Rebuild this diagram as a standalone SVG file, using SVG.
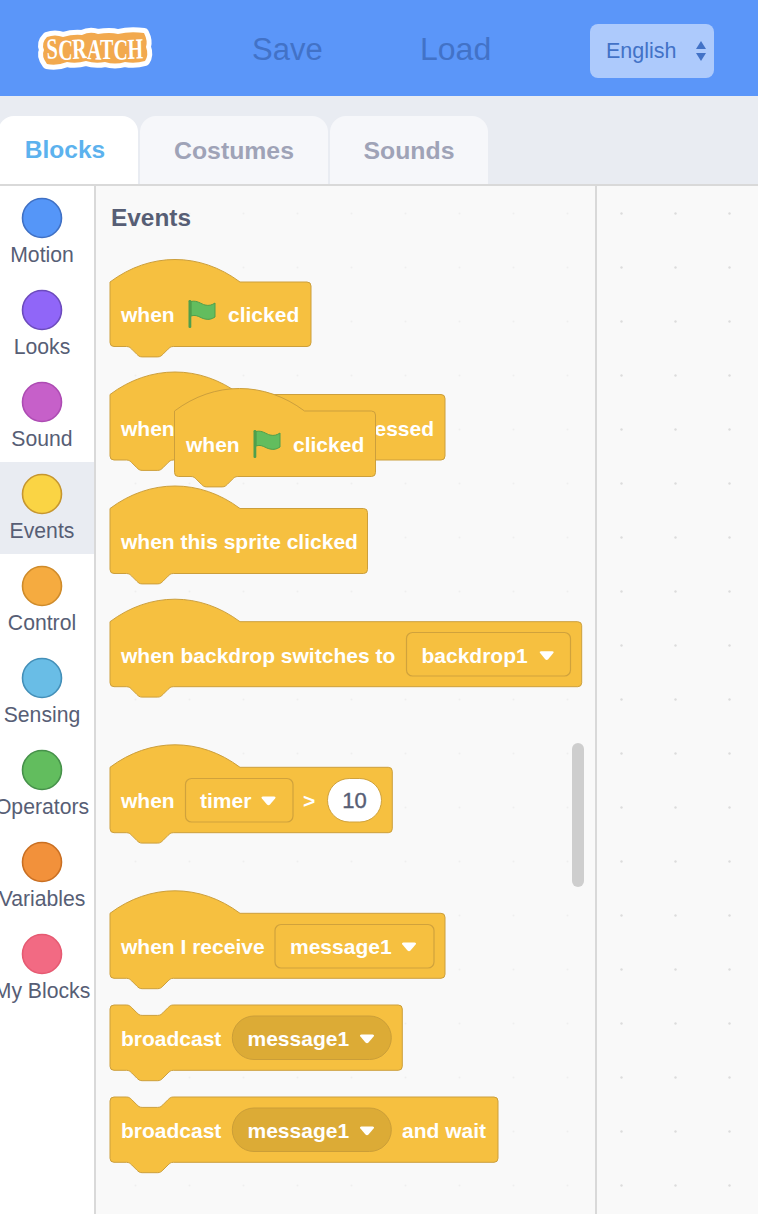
<svg xmlns="http://www.w3.org/2000/svg" width="758" height="1214" viewBox="0 0 758 1214">
<style>
text{font-family:"Liberation Sans",Arial,sans-serif}
.block{fill:#f6c040;stroke:#cc9f3c;stroke-width:1}
.bt{font-size:21px;font-weight:700;fill:#fff}
.dd{fill:#f6c040;stroke:#d0a23c;stroke-width:1.2}
.pill{fill:#dcab36;stroke:#cb9e38;stroke-width:1}
.cat{font-size:21.2px;fill:#575e75;text-anchor:middle}
.dot{stroke-width:1.6}
.tab{fill:#f6f7fa}
.tabt{font-size:24.8px;font-weight:700;text-anchor:middle;fill:#9fa3b7}
</style>
<defs>
<pattern id="dotsA" width="54" height="54" patternUnits="userSpaceOnUse" x="0" y="0"><circle cx="27.5" cy="51.5" r="1" fill="#efefef"/></pattern>
<pattern id="dotsB" width="54" height="54" patternUnits="userSpaceOnUse" x="0" y="0"><circle cx="27.5" cy="51.5" r="1.2" fill="#dcdcdc"/></pattern>
<path id="arrow" d="M-5.6,-4.4 H5.6 Q7.8,-4.4 6.6,-2.6 L1.5,3.6 Q0,5 -1.5,3.6 L-6.6,-2.6 Q-7.8,-4.4 -5.6,-4.4 Z" fill="#fff"/>
<g id="flag"><path d="M191,301.500 c6,-1.500 10,2.500 14,3.500 c4,1 7,0 10,-2 v14 c-3,2 -6,3 -10,2 c-5,-1 -8,-5 -14,-3 Z" fill="#62bd5e" stroke="#4f9f4c" stroke-width="1"/><rect x="188.500" y="300" width="2.800" height="28" rx="1.200" fill="#4f9f4c"/></g>
</defs>
<rect width="758" height="1214" fill="#fff"/>
<g id="header">
<rect width="758" height="96" fill="#5b96f9"/>
<g id="logo">
<path d="M47,37 q8,-3 16,0 q10,-3 19,-2 q8,-4 16,-1 q12,-2 20,0 q12,-3 26,-1 q4,8 2,14 q3,8 -1,14 q-10,3 -20,1 q-10,3 -20,0 q-10,2 -19,-1 q-10,3 -19,1 q-10,4 -20,2 q-6,-8 -3,-14 q-3,-7 3,-13 Z" fill="#f2a94e" stroke="#fff" stroke-width="10" stroke-linejoin="round" paint-order="stroke"/>
<text transform="translate(47,59) scale(1,1.450)" x="0" y="0" font-size="20" font-weight="700" fill="#fff" style="font-family:'Liberation Serif',serif" rotate="-4 3 -3 2 0 2 -2">SCRATCH</text>
</g>
<text x="252" y="60" font-size="31" fill="#4272c7">Save</text>
<text x="420" y="60" font-size="32" fill="#4272c7">Load</text>
<g id="language">
<rect x="590" y="24" width="124" height="54" rx="8" fill="#adcafc"/>
<text x="606" y="58" font-size="21.500" fill="#4272c7">English</text>
<path d="M701,41 l5,8 h-10 Z M696,53 h10 l-5,8 Z" fill="#4272c7"/>
</g>
</g>
<rect y="96" width="758" height="88" fill="#e9ecf2"/>
<g id="tabs">
<path d="M-2,184 V132 a16,16 0 0 1 16,-16 H122 a16,16 0 0 1 16,16 V184 Z" fill="#fff"/>
<text x="65" y="158" font-size="24.500" font-weight="700" text-anchor="middle" fill="#5cb2ee">Blocks</text>
<path class="tab" d="M140,184 V132 a16,16 0 0 1 16,-16 H312 a16,16 0 0 1 16,16 V184 Z"/>
<text class="tabt" x="234" y="159">Costumes</text>
<path class="tab" d="M330,184 V132 a16,16 0 0 1 16,-16 H472 a16,16 0 0 1 16,16 V184 Z"/>
<text class="tabt" x="409" y="159">Sounds</text>
</g>
<rect x="96" y="186" width="499" height="1028" fill="#f9f9f9"/>
<rect x="96" y="186" width="499" height="1028" fill="url(#dotsA)"/>
<rect x="597" y="186" width="161" height="1028" fill="#f9f9f9"/>
<rect x="597" y="186" width="161" height="1028" fill="url(#dotsB)"/>
<rect y="184" width="758" height="2" fill="#d9d9d9"/>
<rect x="94" y="186" width="2" height="1028" fill="#d9d9d9"/>
<rect x="595" y="186" width="2" height="1028" fill="#d9d9d9"/>
<rect y="462" width="94" height="92" fill="#e9ecf2"/>
<g id="categories">
<g id="cat-motion"><circle class="dot" cx="42" cy="218" r="19.500" fill="#5596f8" stroke="#3f70c4"/><text class="cat" x="42" y="262">Motion</text></g>
<g id="cat-looks"><circle class="dot" cx="42" cy="310" r="19.500" fill="#9066f8" stroke="#6c4bbd"/><text class="cat" x="42" y="354">Looks</text></g>
<g id="cat-sound"><circle class="dot" cx="42" cy="402" r="19.500" fill="#c660c9" stroke="#ad4bb3"/><text class="cat" x="42" y="446">Sound</text></g>
<g id="cat-events"><circle class="dot" cx="42" cy="494" r="19.500" fill="#fad444" stroke="#c6962f"/><text class="cat" x="42" y="538">Events</text></g>
<g id="cat-control"><circle class="dot" cx="42" cy="586" r="19.500" fill="#f5ab40" stroke="#cf8b2a"/><text class="cat" x="42" y="630">Control</text></g>
<g id="cat-sensing"><circle class="dot" cx="42" cy="678" r="19.500" fill="#69bde6" stroke="#438fb8"/><text class="cat" x="42" y="722">Sensing</text></g>
<g id="cat-operators"><circle class="dot" cx="42" cy="770" r="19.500" fill="#62bd5e" stroke="#46914a"/><text class="cat" x="42" y="814">Operators</text></g>
<g id="cat-variables"><circle class="dot" cx="42" cy="862" r="19.500" fill="#f2913b" stroke="#c96f22"/><text class="cat" x="42" y="906">Variables</text></g>
<g id="cat-myblocks"><circle class="dot" cx="42" cy="954" r="19.500" fill="#f26a83" stroke="#e65a72"/><text class="cat" x="42" y="998">My Blocks</text></g>
</g>
<text x="111" y="226" font-size="24.400" font-weight="700" fill="#575e75">Events</text>
<rect id="scrollbar" x="572" y="743" width="12" height="144" rx="6" fill="#cecece"/>
<g id="connectors"></g>
<g id="b-key">
<path class="block" d="M110,394.500 C150,364.500 200,364.500 240,394.500 H441 a4,4 0 0 1 4,4 V456 a4,4 0 0 1 -4,4 H173.300 c-2.600,0 -3.900,1.300 -5.200,2.600 l-5.200,5.200 c-1.300,1.300 -2.600,2.600 -5.200,2.600 h-15.600 c-2.600,0 -3.900,-1.300 -5.200,-2.600 l-5.200,-5.200 c-1.300,-1.300 -2.600,-2.600 -5.200,-2.600 H114 a4,4 0 0 1 -4,-4 Z"/>
<text class="bt" x="121" y="435.500">when</text>
<text class="bt" x="434" y="435.500" text-anchor="end">essed</text>
</g>
<g id="b-flag">
<path class="block" d="M110,282 C150,252 200,252 240,282 H307 a4,4 0 0 1 4,4 V342.500 a4,4 0 0 1 -4,4 H173.300 c-2.600,0 -3.900,1.300 -5.200,2.600 l-5.200,5.200 c-1.300,1.300 -2.600,2.600 -5.200,2.600 h-15.600 c-2.600,0 -3.900,-1.300 -5.200,-2.600 l-5.200,-5.200 c-1.300,-1.300 -2.600,-2.600 -5.200,-2.600 H114 a4,4 0 0 1 -4,-4 Z"/>
<text class="bt" x="121" y="321.500">when</text>
<use href="#flag"/>
<text class="bt" x="228" y="321.500">clicked</text>
</g>
<g id="b-sprite">
<path class="block" d="M110,508.500 C150,478.500 200,478.500 240,508.500 H363.500 a4,4 0 0 1 4,4 V569.500 a4,4 0 0 1 -4,4 H173.300 c-2.600,0 -3.900,1.300 -5.200,2.600 l-5.200,5.200 c-1.300,1.300 -2.600,2.600 -5.200,2.600 h-15.600 c-2.600,0 -3.900,-1.300 -5.200,-2.600 l-5.200,-5.200 c-1.300,-1.300 -2.600,-2.600 -5.200,-2.600 H114 a4,4 0 0 1 -4,-4 Z"/>
<text class="bt" x="121" y="548.500">when this sprite clicked</text>
</g>
<g id="b-flag-drag">
<path class="block" d="M174.500,411 C214.500,381 264.500,381 304.500,411 H371.500 a4,4 0 0 1 4,4 V472.500 a4,4 0 0 1 -4,4 H237.800 c-2.600,0 -3.900,1.300 -5.200,2.600 l-5.200,5.200 c-1.300,1.300 -2.600,2.600 -5.200,2.600 h-15.600 c-2.600,0 -3.900,-1.300 -5.200,-2.600 l-5.200,-5.200 c-1.300,-1.300 -2.600,-2.600 -5.200,-2.600 H178.500 a4,4 0 0 1 -4,-4 Z"/>
<text class="bt" x="186" y="451.500">when</text>
<use href="#flag" x="65" y="130"/>
<text class="bt" x="293" y="451.500">clicked</text>
</g>
<g id="b-backdrop">
<path class="block" d="M110,621.700 C150,591.700 200,591.700 240,621.700 H577.700 a4,4 0 0 1 4,4 V682.700 a4,4 0 0 1 -4,4 H173.300 c-2.600,0 -3.900,1.300 -5.200,2.600 l-5.200,5.200 c-1.300,1.300 -2.600,2.600 -5.200,2.600 h-15.600 c-2.600,0 -3.900,-1.300 -5.200,-2.600 l-5.200,-5.200 c-1.300,-1.300 -2.600,-2.600 -5.200,-2.600 H114 a4,4 0 0 1 -4,-4 Z"/>
<text class="bt" x="121" y="662.500">when backdrop switches to</text>
<rect class="dd" x="406.500" y="632.500" width="164" height="43.500" rx="6"/>
<text class="bt" x="421.500" y="662.500">backdrop1</text>
<use href="#arrow" x="546.700" y="655.700"/>
</g>
<g id="b-timer">
<path class="block" d="M110,767.300 C150,737.300 200,737.300 240,767.300 H388.300 a4,4 0 0 1 4,4 V828.700 a4,4 0 0 1 -4,4 H173.300 c-2.600,0 -3.900,1.300 -5.200,2.600 l-5.200,5.200 c-1.300,1.300 -2.600,2.600 -5.200,2.600 h-15.600 c-2.600,0 -3.900,-1.300 -5.200,-2.600 l-5.200,-5.200 c-1.300,-1.300 -2.600,-2.600 -5.200,-2.600 H114 a4,4 0 0 1 -4,-4 Z"/>
<text class="bt" x="121" y="807.500">when</text>
<rect class="dd" x="185.500" y="778.500" width="107.500" height="43.500" rx="6"/>
<text class="bt" x="200" y="807.500">timer</text>
<use href="#arrow" x="268.500" y="801"/>
<text class="bt" x="303" y="807.500">&gt;</text>
<rect x="327.500" y="778.500" width="54" height="43.500" rx="21.700" fill="#fff" stroke="#d0a23c"/>
<text x="354.500" y="807.500" font-size="22" text-anchor="middle" fill="#575e75" stroke="#575e75" stroke-width=".4">10</text>
</g>
<g id="b-receive">
<path class="block" d="M110,913.300 C150,883.300 200,883.300 240,913.300 H441 a4,4 0 0 1 4,4 V974.300 a4,4 0 0 1 -4,4 H173.300 c-2.600,0 -3.900,1.300 -5.200,2.600 l-5.200,5.200 c-1.300,1.300 -2.600,2.600 -5.200,2.600 h-15.600 c-2.600,0 -3.900,-1.300 -5.200,-2.600 l-5.200,-5.200 c-1.300,-1.300 -2.600,-2.600 -5.200,-2.600 H114 a4,4 0 0 1 -4,-4 Z"/>
<text class="bt" x="121" y="953.500">when I receive</text>
<rect class="dd" x="275" y="924.500" width="159" height="43.500" rx="6"/>
<text class="bt" x="290" y="953.500">message1</text>
<use href="#arrow" x="409" y="947"/>
</g>
<g id="b-broadcast">
<path class="block" d="M110,1009 a4,4 0 0 1 4,-4 H126.500 c2.600,0 3.900,1.300 5.200,2.600 l5.200,5.200 c1.300,1.300 2.600,2.600 5.200,2.600 h15.600 c2.600,0 3.900,-1.300 5.200,-2.600 l5.200,-5.200 c1.300,-1.300 2.600,-2.600 5.200,-2.600 H398.300 a4,4 0 0 1 4,4 V1066.300 a4,4 0 0 1 -4,4 H173.300 c-2.600,0 -3.900,1.300 -5.200,2.600 l-5.200,5.200 c-1.300,1.300 -2.600,2.600 -5.200,2.600 h-15.600 c-2.600,0 -3.900,-1.300 -5.200,-2.600 l-5.200,-5.200 c-1.300,-1.300 -2.600,-2.600 -5.200,-2.600 H114 a4,4 0 0 1 -4,-4 Z"/>
<text class="bt" x="121" y="1045.500">broadcast</text>
<rect class="pill" x="232.300" y="1016" width="159" height="43.500" rx="21.700"/>
<text class="bt" x="247.500" y="1045.500">message1</text>
<use href="#arrow" x="367" y="1039"/>
</g>
<g id="b-broadcast-wait">
<path class="block" d="M110,1101 a4,4 0 0 1 4,-4 H126.500 c2.600,0 3.900,1.300 5.200,2.600 l5.200,5.200 c1.300,1.300 2.600,2.600 5.200,2.600 h15.600 c2.600,0 3.900,-1.300 5.200,-2.600 l5.200,-5.200 c1.300,-1.300 2.600,-2.600 5.200,-2.600 H494 a4,4 0 0 1 4,4 V1158.300 a4,4 0 0 1 -4,4 H173.300 c-2.600,0 -3.900,1.300 -5.200,2.600 l-5.200,5.200 c-1.300,1.300 -2.600,2.600 -5.200,2.600 h-15.600 c-2.600,0 -3.900,-1.300 -5.200,-2.600 l-5.200,-5.200 c-1.300,-1.300 -2.600,-2.600 -5.200,-2.600 H114 a4,4 0 0 1 -4,-4 Z"/>
<text class="bt" x="121" y="1137.500">broadcast</text>
<rect class="pill" x="232.300" y="1108" width="159" height="43.500" rx="21.700"/>
<text class="bt" x="247.500" y="1137.500">message1</text>
<use href="#arrow" x="367" y="1131"/>
<text class="bt" x="402" y="1137.500">and wait</text>
</g>
</svg>
